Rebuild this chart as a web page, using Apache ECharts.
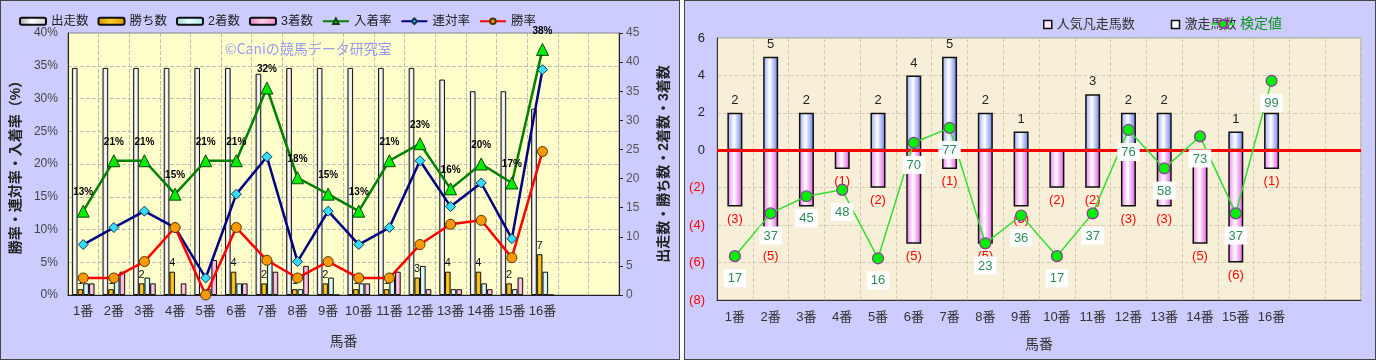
<!DOCTYPE html>
<html><head><meta charset="utf-8">
<script src="https://cdn.jsdelivr.net/npm/echarts/dist/echarts.min.js"></script>
<style>
html,body{margin:0;padding:0;background:#fff;width:1376px;height:360px;overflow:hidden;}
.panel{position:absolute;top:0;height:360px;box-sizing:border-box;border:1px solid #444;background:#ccccff;}
#c1{left:0;width:680px;}
#c2{left:684px;width:692px;}
</style></head><body>
<div id="c1" class="panel"></div><div id="c2" class="panel"></div>
<script>
// ---- data ----
const categories = ['1番','2番','3番','4番','5番','6番','7番','8番','9番','10番','11番','12番','13番','14番','15番','16番'];
// left chart (counts)
const starts  = [39,39,39,39,39,39,38,39,39,39,39,39,37,35,35,32];
const wins    = [1,1,2,4,0,4,2,1,2,1,1,3,4,4,2,7];
const seconds = [2,3,3,0,1,2,6,1,3,2,3,5,1,2,1,4];
const thirds  = [2,4,2,2,6,2,4,5,0,2,4,1,1,1,3,0];
// left chart (rates, %)
const placeRate    = [12.8,20.5,20.5,15.4,20.5,20.5,31.6,17.9,15.4,12.8,20.5,23.1,16.2,20.0,17.1,37.5];
const quinellaRate = [7.7,10.3,12.8,10.3,2.6,15.4,21.1,5.1,12.8,7.7,10.3,20.5,13.5,17.1,8.6,34.4];
const winRate      = [2.6,2.6,5.1,10.3,0,10.3,5.3,2.6,5.1,2.6,2.6,7.7,10.8,11.4,5.7,21.9];
// right chart
const upsetCount   = [2,5,2,0,2,4,5,2,1,0,3,2,2,0,1,2];
const popFailCount = [3,5,3,1,2,5,1,5,3,2,2,3,3,5,6,1];
const testValue    = [17,37,45,48,16,70,77,23,36,17,37,76,58,73,37,99];

const xCats = categories.concat(['','']);
const FONT = "'Liberation Sans','Noto Sans CJK JP',sans-serif";
function hgrad(a,b,c){return new echarts.graphic.LinearGradient(0,0,1,0,[{offset:0,color:a},{offset:0.45,color:b},{offset:1,color:c}]);}

// ---- left chart ----
const c1 = echarts.init(document.getElementById('c1'));
const barBase = {type:'bar', yAxisIndex:1, barGap:'0%', barCategoryGap:'26%'};
c1.setOption({
  animation:false,
  textStyle:{fontFamily:FONT},
  legend:{left:13, top:9, itemWidth:26, itemHeight:7, itemGap:9,
    textStyle:{fontSize:12.5, color:'#222', fontFamily:FONT},
    data:['出走数','勝ち数','2着数','3着数','入着率','連対率','勝率']},
  graphic:[{type:'text', left:224, top:41, style:{text:'©Caniの競馬データ研究室', fill:'#9a9af0', font:"14px 'Noto Sans CJK JP'"}}],
  grid:{left:65, right:54, top:32, bottom:64, show:true, backgroundColor:'#ffffcc', borderColor:'#888', borderWidth:1},
  xAxis:{type:'category', data:xCats, boundaryGap:true,
    axisLine:{lineStyle:{color:'#222'}}, axisTick:{show:false},
    axisLabel:{fontSize:13, color:'#333', margin:10, interval:0},
    splitLine:{show:true, lineStyle:{color:'#bbb', type:'dashed'}},
    name:'馬番', nameLocation:'middle', nameGap:40, nameTextStyle:{fontSize:14, color:'#333'}},
  yAxis:[
    {type:'value', min:0, max:40, interval:5,
     axisLabel:{formatter:'{value}%', fontSize:12, color:'#444', margin:10},
     axisLine:{show:true, lineStyle:{color:'#222'}}, axisTick:{show:false},
     splitLine:{show:true, lineStyle:{color:'#bbb', type:'dashed'}},
     name:'勝率・連対率・入着率（%）', nameLocation:'middle', nameRotate:90, nameGap:41,
     nameTextStyle:{fontSize:14, color:'#222', fontWeight:'bold'}},
    {type:'value', min:0, max:45, interval:5, position:'right',
     axisLabel:{fontSize:12, color:'#555', margin:7},
     axisLine:{show:true, lineStyle:{color:'#222'}}, axisTick:{show:true, length:4, lineStyle:{color:'#222'}},
     splitLine:{show:false},
     name:'出走数・勝ち数・2着数・3着数', nameLocation:'middle', nameRotate:90, nameGap:38,
     nameTextStyle:{fontSize:14, color:'#222', fontWeight:'bold'}}
  ],
  series:[
    Object.assign({name:'出走数', data:starts,
      itemStyle:{color:hgrad('#a8a8a8','#ffffff','#d0d0d0'), borderColor:'#111', borderWidth:1}}, barBase),
    Object.assign({name:'勝ち数', data:wins,
      itemStyle:{color:hgrad('#c89200','#ffcc22','#d9a000'), borderColor:'#111', borderWidth:1},
      label:{show:true, position:'top', distance:3, fontSize:11, color:'#111',
        formatter:p=>p.value? String(p.value):''}}, barBase),
    Object.assign({name:'2着数', data:seconds,
      itemStyle:{color:hgrad('#8fd6d6','#eaffff','#a8e6e6'), borderColor:'#111', borderWidth:1}}, barBase),
    Object.assign({name:'3着数', data:thirds,
      itemStyle:{color:hgrad('#e07ab0','#ffd0ea','#ee90c4'), borderColor:'#111', borderWidth:1}}, barBase),
    {name:'入着率', type:'line', yAxisIndex:0, data:placeRate,
     lineStyle:{color:'#008000', width:2.5}, symbol:'triangle', symbolSize:12,
     itemStyle:{color:'#00ee00', borderColor:'#114411', borderWidth:1},
     label:{show:true, position:'top', distance:7, fontSize:10, fontWeight:'bold', color:'#000',
       formatter:p=>Math.round(p.value)+'%'}},
    {name:'連対率', type:'line', yAxisIndex:0, data:quinellaRate,
     lineStyle:{color:'#000080', width:2.5}, symbol:'diamond', symbolSize:10,
     itemStyle:{color:'#33ddff', borderColor:'#113355', borderWidth:1}},
    {name:'勝率', type:'line', yAxisIndex:0, data:winRate,
     lineStyle:{color:'#ff0000', width:2.5}, symbol:'circle', symbolSize:10,
     itemStyle:{color:'#ff9900', borderColor:'#553300', borderWidth:1}}
  ]
});

// ---- right chart ----
const c2 = echarts.init(document.getElementById('c2'));
c2.setOption({
  animation:false,
  textStyle:{fontFamily:FONT},
  legend:[
    {left:353, top:12, itemWidth:8, itemHeight:8, itemGap:36,
     textStyle:{fontSize:13, color:'#333', fontFamily:FONT},
     data:[{name:'人気凡走馬数', icon:'rect', itemStyle:{color:'#ffe6ff', borderColor:'#111', borderWidth:1.5}},
           {name:'激走馬数', icon:'rect', itemStyle:{color:'#ffffff', borderColor:'#111', borderWidth:1.5}}]},
    {left:520, top:11, itemWidth:24, itemHeight:10,
     textStyle:{fontSize:14, color:'#109020', fontFamily:FONT},
     data:['検定値']}
  ],
  grid:{left:32, right:14, top:37, bottom:59, show:true, backgroundColor:'#f8efd9', borderColor:'#999', borderWidth:1},
  xAxis:{type:'category', data:xCats, boundaryGap:true,
    axisLine:{onZero:false, lineStyle:{color:'#333'}}, axisTick:{show:false},
    axisLabel:{fontSize:13, color:'#333', margin:11, interval:0},
    splitLine:{show:true, lineStyle:{color:'#d6cdb6', type:'dashed'}},
    name:'馬番', nameLocation:'middle', nameGap:38, nameTextStyle:{fontSize:14, color:'#333'}},
  yAxis:[
    {type:'value', min:-8, max:6, interval:2,
     axisLine:{show:true, lineStyle:{color:'#333'}}, axisTick:{show:false},
     axisLabel:{fontSize:13, margin:12,
       formatter:v=> v<0 ? '{n|('+(-v)+')}' : '{p|'+v+'}',
       rich:{n:{color:'#ff0000', fontSize:13}, p:{color:'#222', fontSize:13}}},
     splitLine:{show:true, lineStyle:{color:'#d6cdb6', type:'dashed'}}},
    {type:'value', min:-3.5, max:119, show:false}
  ],
  series:[
    {name:'激走馬数', type:'bar', data:upsetCount, barWidth:15, barGap:'-100%', z:2,
     itemStyle:{color:hgrad('#98a6f4','#ffffff','#6878e6'), borderColor:'#111', borderWidth:1.5},
     label:{show:true, position:'top', distance:6, fontSize:13, color:'#222',
       formatter:p=>p.value? String(p.value):''}},
    {name:'人気凡走馬数', type:'bar', data:popFailCount.map(v=>-v), barWidth:15, barGap:'-100%', z:2,
     itemStyle:{color:hgrad('#ee77ee','#ffffff','#dd55dd'), borderColor:'#111', borderWidth:1.5},
     label:{show:true, position:'bottom', distance:6, fontSize:13, color:'#ff0000',
       formatter:p=>p.value? '('+(-p.value)+')':''},
     markLine:{silent:true, symbol:'none', label:{show:false},
       lineStyle:{color:'#ff0000', width:3, type:'solid'}, data:[{yAxis:0}]}},
    {name:'検定値', type:'line', yAxisIndex:1, data:testValue, z:5,
     lineStyle:{color:'#33dd33', width:1.5}, symbol:'circle', symbolSize:11,
     itemStyle:{color:'#00ee00', borderColor:'#8e3a9a', borderWidth:1.2},
     label:{show:true, position:'bottom', distance:7, fontSize:13, color:'#2e8b57',
       backgroundColor:'#ffffff', padding:[3,4,2,4]}}
  ]
});
</script></body></html>
